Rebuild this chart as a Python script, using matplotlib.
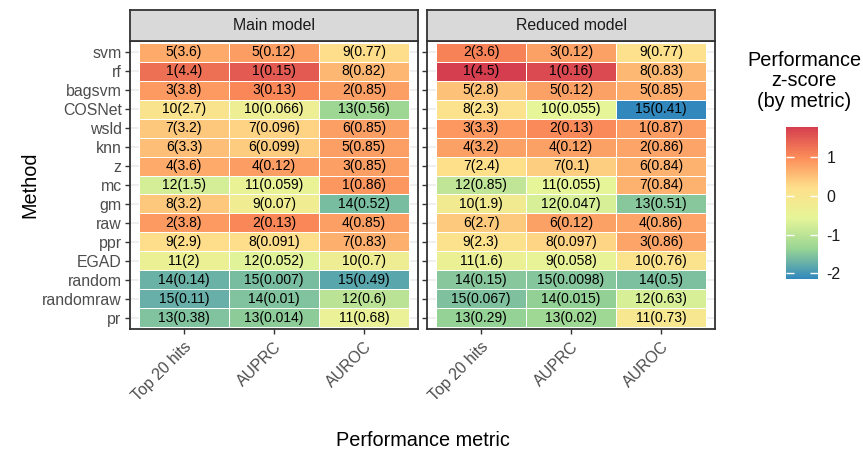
import numpy as np
import matplotlib
matplotlib.use("Agg")
import matplotlib.pyplot as plt
from matplotlib.colors import LinearSegmentedColormap, Normalize
from matplotlib.cm import ScalarMappable

plt.rcParams['font.family'] = ['Liberation Sans', 'DejaVu Sans']

# ---- data -------------------------------------------------------------
methods = ["svm", "rf", "bagsvm", "COSNet", "wsld", "knn", "z", "mc", "gm",
           "raw", "ppr", "EGAD", "random", "randomraw", "pr"]
metrics = ["Top 20 hits", "AUPRC", "AUROC"]
models = ["Main model", "Reduced model"]

main_top20_rank = [5, 1, 3, 10, 7, 6, 4, 12, 8, 2, 9, 11, 14, 15, 13]
main_top20_val = [3.6, 4.4, 3.8, 2.7, 3.2, 3.3, 3.6, 1.5, 3.2, 3.8, 2.9, 2, 0.14, 0.11, 0.38]
main_auprc_rank = [5, 1, 3, 10, 7, 6, 4, 11, 9, 2, 8, 12, 15, 14, 13]
main_auprc_val = [0.12, 0.15, 0.13, 0.066, 0.096, 0.099, 0.12, 0.059, 0.07, 0.13, 0.091,
                  0.052, 0.007, 0.01, 0.014]
main_auroc_rank = [9, 8, 2, 13, 6, 5, 3, 1, 14, 4, 7, 10, 15, 12, 11]
main_auroc_val = [0.77, 0.82, 0.85, 0.56, 0.85, 0.85, 0.85, 0.86, 0.52, 0.85, 0.83, 0.7,
                  0.49, 0.6, 0.68]

reduced_top20_rank = [2, 1, 5, 8, 3, 4, 7, 12, 10, 6, 9, 11, 14, 15, 13]
reduced_top20_val = [3.6, 4.5, 2.8, 2.3, 3.3, 3.2, 2.4, 0.85, 1.9, 2.7, 2.3, 1.6, 0.15,
                     0.067, 0.29]
reduced_auprc_rank = [3, 1, 5, 10, 2, 4, 7, 11, 12, 6, 8, 9, 15, 14, 13]
reduced_auprc_val = [0.12, 0.16, 0.12, 0.055, 0.13, 0.12, 0.1, 0.055, 0.047, 0.12, 0.097,
                     0.058, 0.0098, 0.015, 0.02]
reduced_auroc_rank = [9, 8, 5, 15, 1, 2, 6, 7, 13, 4, 3, 10, 14, 12, 11]
reduced_auroc_val = [0.77, 0.83, 0.85, 0.41, 0.87, 0.86, 0.84, 0.84, 0.51, 0.86, 0.86,
                     0.76, 0.5, 0.63, 0.73]

panel_ranks = [
    [main_top20_rank, main_auprc_rank, main_auroc_rank],
    [reduced_top20_rank, reduced_auprc_rank, reduced_auroc_rank],
]
panel_vals = [
    [main_top20_val, main_auprc_val, main_auroc_val],
    [reduced_top20_val, reduced_auprc_val, reduced_auroc_val],
]


def zscore(v):
    v = np.asarray(v, dtype=float)
    return (v - v.mean()) / v.std(ddof=1)


# z-score of each metric within each model
panel_z = [np.column_stack([zscore(v) for v in vals]) for vals in panel_vals]
zmin = min(z.min() for z in panel_z)
zmax = max(z.max() for z in panel_z)

# reversed 6-class Spectral
spectral = ["#3288BD", "#99D594", "#E6F598", "#FEE08B", "#FC8D59", "#D53E4F"]
cmap = LinearSegmentedColormap.from_list("spectral_rev", spectral, N=256)
norm = Normalize(vmin=zmin, vmax=zmax)

# ---- layout (pixels) ----------------------------------------------------
W, H = 863, 453
fig = plt.figure(figsize=(W / 100, H / 100), dpi=100)


def rect(x0, y0, x1, y1):
    return [x0 / W, 1 - y1 / H, (x1 - x0) / W, (y1 - y0) / H]


panel_top, panel_bot, strip_top = 41, 329, 10
panels_x = [(130, 418), (427, 715)]
border = "#333333"
n = len(methods)

for p, (x0, x1) in enumerate(panels_x):
    ax = fig.add_axes(rect(x0, panel_top, x1, panel_bot))
    ax.set_xlim(-0.6, 2.6)
    ax.set_ylim(n - 0.4, -0.6)
    for yy in range(n):
        ax.axhline(yy, color="#EBEBEB", lw=1.1, zorder=0)
    for xx in range(3):
        ax.axvline(xx, color="#EBEBEB", lw=1.1, zorder=0)
    xe = np.arange(4) - 0.5
    ye = np.arange(n + 1) - 0.5
    ax.pcolormesh(xe, ye, panel_z[p], cmap=cmap, norm=norm,
                  edgecolors="white", linewidth=0.5, zorder=1)
    for j in range(3):
        for i in range(n):
            r = panel_ranks[p][j][i]
            v = panel_vals[p][j][i]
            ax.text(j, i, f"{r}({v:g})", ha="center", va="center",
                    fontsize=10, color="black", zorder=2)
    ax.set_xticks(range(3))
    ax.set_xticklabels(metrics, rotation=45, ha="right", va="top",
                       rotation_mode="anchor", fontsize=11.4, color="#4D4D4D")
    ax.set_yticks(range(n))
    if p == 0:
        ax.set_yticklabels(methods, fontsize=11.4, color="#4D4D4D")
    else:
        ax.set_yticklabels([])
        ax.tick_params(axis="y", length=0)
    ax.tick_params(axis="both", color=border, width=1.0, length=3.5, pad=2.5)
    ax.tick_params(axis="x", pad=4)
    for s in ax.spines.values():
        s.set_color(border)
        s.set_linewidth(1.3)

    sax = fig.add_axes(rect(x0, strip_top, x1, panel_top))
    sax.set_facecolor("#D9D9D9")
    sax.set_xticks([])
    sax.set_yticks([])
    for s in sax.spines.values():
        s.set_color(border)
        s.set_linewidth(1.3)
    sax.text(0.5, 0.5, models[p], ha="center", va="center",
             fontsize=11.4, color="#1A1A1A", transform=sax.transAxes)

# axis titles
fig.text(30 / W, 1 - 185 / H, "Method", rotation=90, ha="center", va="center",
         fontsize=14.3, color="black")
fig.text(423 / W, 1 - 441 / H, "Performance metric", ha="center", va="center",
         fontsize=14.3, color="black")

# colour bar legend
cax = fig.add_axes(rect(786, 127, 818, 279))
cb = fig.colorbar(ScalarMappable(norm=norm, cmap=cmap), cax=cax, ticks=[-2, -1, 0, 1])
cb.outline.set_visible(False)
cax.tick_params(axis="y", direction="in", color="white", length=6, width=1,
                left=True, right=True, labelsize=11.4, labelcolor="#1A1A1A", pad=6)
cax.set_yticklabels(["-2", "-1", "0", "1"])
fig.text(804 / W, 1 - 51 / H, "Performance\nz-score\n(by metric)", ha="center",
         va="top", fontsize=14.3, color="black", linespacing=1.1)

fig.savefig("out.png", dpi=100, facecolor="white")
